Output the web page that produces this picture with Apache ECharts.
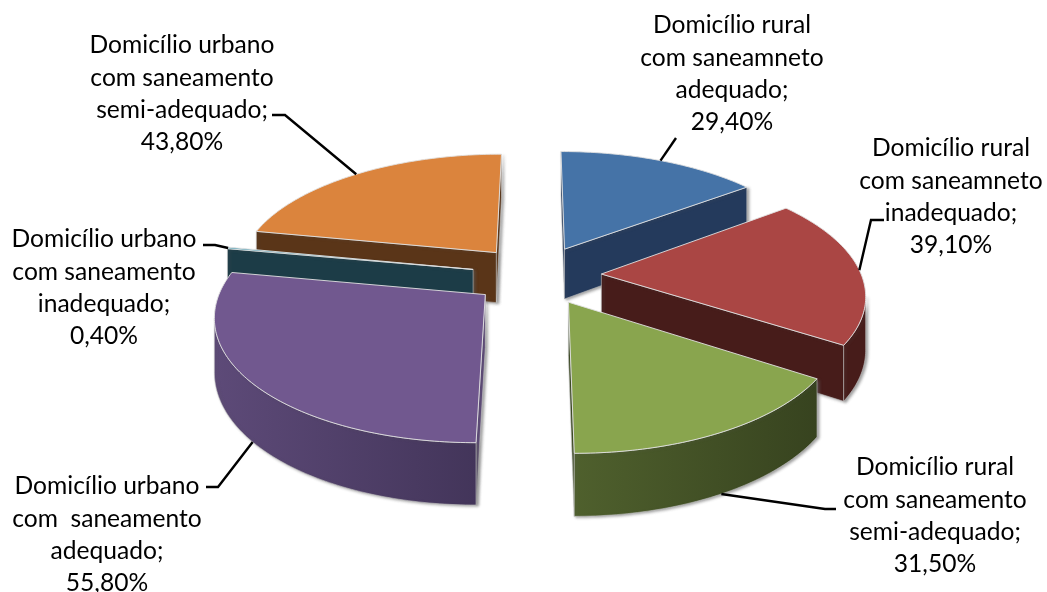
<!DOCTYPE html>
<html>
<head>
<meta charset="utf-8">
<title>Domicílios</title>
<script src="https://cdn.jsdelivr.net/npm/echarts@6/dist/echarts.min.js"></script>
<style>
  html, body { margin: 0; padding: 0; background: #fff; }
  #chart { width: 1047px; height: 592px; }
</style>
</head>
<body>
<div id="chart"></div>
<script>
const categories = [
  'Domicílio rural\ncom saneamneto\nadequado',
  'Domicílio rural\ncom saneamneto\ninadequado',
  'Domicílio rural\ncom saneamento\nsemi-adequado',
  'Domicílio urbano\ncom  saneamento\nadequado',
  'Domicílio urbano\ncom saneamento\ninadequado',
  'Domicílio urbano\ncom saneamento\nsemi-adequado'
]
const percentValues = [29.4, 39.1, 31.5, 55.8, 0.4, 43.8]
const valueLabels = ['29,40%', '39,10%', '31,50%', '55,80%', '0,40%', '43,80%']

const topColors = ['#4573a7', '#aa4644', '#89a54e', '#71588f', '#4198af', '#db843d']
const sideColors = ['#243a5c', '#471c1a', '#3c4a22', '#5d4a78', '#1c3c47', '#5a3518']
const arcColors = [
  ['#243a5c', '#243a5c'],
  ['#471c1a', '#471c1a'],
  ['#4f602d', '#37431f'],
  ['#5d4a78', '#43355a'],
  ['#1c3c47', '#1c3c47'],
  ['#5a3518', '#5a3518']
]

// label centre, and the leader line from the slice (rim = which edge it touches)
const labelLayout = [
  { x: 732, y: 74, rim: 0, elbow: [[676, 138]] },
  { x: 951, y: 197, rim: 0, elbow: [[871, 220], [884, 220]] },
  { x: 935, y: 516, rim: 1, elbow: [[825, 509], [836, 509]] },
  { x: 107, y: 535, rim: 1, elbow: [[218, 487], [206, 487]] },
  { x: 104, y: 288, rim: 0, elbow: [[215, 245], [203, 245]] },
  { x: 182, y: 94, rim: 0, elbow: [[285, 115], [272, 115]] }
]

// flat projection of the tilted disc
const centerX = 536.5
const centerY = 275
const radiusX = 260
const radiusY = 119.4
const perspective = 0.15
const thickness = 51.5
const explode = 0.25

const total = percentValues.reduce((a, b) => a + b, 0)
const slices = []
percentValues.reduce((start, value) => {
  const sweep = value / total * Math.PI * 2
  const mid = start + sweep / 2
  slices.push({ start, sweep, ex: Math.sin(mid) * explode, ey: -Math.cos(mid) * explode })
  return start + sweep
}, 0)
const depthOrder = slices.map((s, i) => i).sort((a, b) => slices[a].ey - slices[b].ey)

function project(u, v, z) {
  const k = 1 / (1 - perspective * v)
  return [centerX + radiusX * u * k, centerY + (radiusY * v + thickness * z) * k]
}

function rimPoint(slice, angle, z) {
  return project(slice.ex + Math.sin(angle), slice.ey - Math.cos(angle), z)
}

function renderSlice(params) {
  const i = params.dataIndex
  const s = slices[i]
  const rank = depthOrder.indexOf(i) * 10
  const steps = Math.max(2, Math.round(s.sweep * 60))
  const arcTop = []
  const arcBottom = []
  for (let k = 0; k <= steps; k++) {
    const t = s.start + s.sweep * k / steps
    arcTop.push(rimPoint(s, t, 0))
    arcBottom.push(rimPoint(s, t, 1))
  }
  const apexTop = project(s.ex, s.ey, 0)
  const apexBottom = project(s.ex, s.ey, 1)
  const children = []
  const shade = { shadowColor: 'rgba(90,90,90,0.6)', shadowBlur: 3, shadowOffsetX: 2, shadowOffsetY: 1 }

  // side walls, only where they face the viewer
  const pushFlat = (a, b, c, d) => {
    children.push({
      type: 'polygon',
      z2: rank + 1,
      shape: { points: [a, b, c, d] },
      style: { fill: sideColors[i], stroke: 'rgba(200,200,200,0.7)', lineWidth: 0.8, ...shade }
    })
  }
  const endTop = arcTop[steps]
  const endBottom = arcBottom[steps]
  if (apexTop[0] > arcTop[0][0]) pushFlat(apexTop, arcTop[0], arcBottom[0], apexBottom)
  if (endTop[0] > apexTop[0]) pushFlat(endTop, apexTop, apexBottom, endBottom)

  // going clockwise, the rim faces the viewer where it runs leftwards on screen
  const run = []
  for (let k = 0; k < steps; k++) {
    if (arcTop[k][0] > arcTop[k + 1][0]) run.push(k)
  }
  if (run.length) {
    const from = run[0]
    const to = run[run.length - 1] + 1
    const pts = arcTop.slice(from, to + 1).concat(arcBottom.slice(from, to + 1).reverse())
    children.push({
      type: 'polygon',
      z2: rank + 2,
      shape: { points: pts },
      style: {
        fill: {
          type: 'linear',
          x: 0,
          y: 0,
          x2: 1,
          y2: 0,
          colorStops: [{ offset: 0, color: arcColors[i][0] }, { offset: 1, color: arcColors[i][1] }]
        },
        stroke: 'rgba(200,200,200,0.7)',
        lineWidth: 0.8,
        ...shade
      }
    })
  }

  // top face
  children.push({
    type: 'polygon',
    z2: rank + 3,
    shape: { points: [apexTop].concat(arcTop) },
    style: { fill: topColors[i], stroke: 'rgba(225,225,225,0.9)', lineWidth: 1 }
  })

  // leader line and label
  const layout = labelLayout[i]
  const anchor = rimPoint(s, s.start + s.sweep / 2, layout.rim)
  children.push({
    type: 'polyline',
    z2: 100,
    shape: { points: [anchor].concat(layout.elbow) },
    style: { fill: 'none', stroke: '#000', lineWidth: 2.4 }
  })
  children.push({
    type: 'text',
    z2: 101,
    x: layout.x,
    y: layout.y,
    style: {
      text: categories[i] + ';\n' + valueLabels[i],
      fill: '#000',
      fontFamily: 'Lato',
      fontSize: 24.6,
      lineHeight: 32.3,
      align: 'center',
      verticalAlign: 'middle'
    }
  })
  return { type: 'group', children }
}

const chart = echarts.init(document.getElementById('chart'))
chart.setOption({
  animation: false,
  backgroundColor: '#fff',
  series: [{
    type: 'custom',
    coordinateSystem: 'none',
    silent: true,
    data: percentValues,
    renderItem: renderSlice
  }]
})
</script>
</body>
</html>
